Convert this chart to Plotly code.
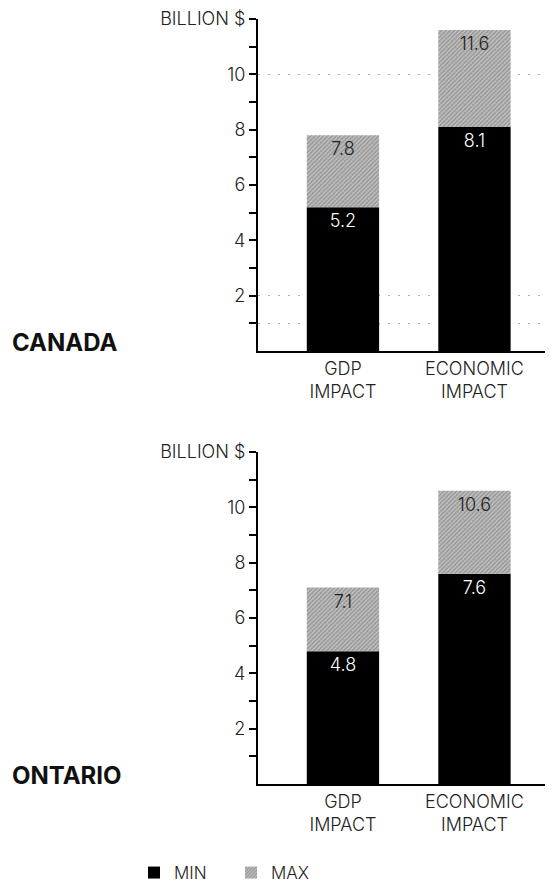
import plotly.graph_objects as go

categories = ["GDP<br>IMPACT", "ECONOMIC<br>IMPACT"]
canada_min = [5.2, 8.1]
canada_max = [7.8, 11.6]
ontario_min = [4.8, 7.6]
ontario_max = [7.1, 10.6]
regions = ["CANADA", "ONTARIO"]
y_tick_vals = [1, 2, 3, 4, 5, 6, 7, 8, 9, 10, 11, 12]
y_tick_text = ["", "2", "", "4", "", "6", "", "8", "", "10", "", "BILLION $"]
canada_grid = [1, 2, 10]

FONT = "Inter"
W, H = 553, 890
OFF = 8  # page body margin offset (screen px -> figure px)


def fx(px):
    return (px - OFF) / W


def fy(py):
    return 1 - (py - OFF) / H


fig = go.Figure()

pattern = dict(shape="/", bgcolor="#c0c0c0", fgcolor="#666666", size=3, solidity=0.45)


def add_pair(mins, maxs, xa, ya, show):
    fig.add_trace(go.Bar(
        x=categories, y=mins, name="MIN", xaxis=xa, yaxis=ya,
        marker=dict(color="#000000", line=dict(width=0)),
        text=[f"{v:.1f}" for v in mins], textposition="inside",
        insidetextanchor="end", textangle=0,
        textfont=dict(color="white", size=18, family=FONT, weight=300),
        width=0.55, showlegend=show, legendgroup="min", hoverinfo="skip"))
    fig.add_trace(go.Bar(
        x=categories, y=[b - a for a, b in zip(mins, maxs)], base=mins,
        name="MAX", xaxis=xa, yaxis=ya,
        marker=dict(color="#c0c0c0", pattern=pattern, line=dict(width=0)),
        text=[f"{v:.1f}" for v in maxs], textposition="inside",
        insidetextanchor="end", textangle=0,
        textfont=dict(color="#222222", size=18, family=FONT, weight=300),
        width=0.55, showlegend=show, legendgroup="max", hoverinfo="skip"))


add_pair(canada_min, canada_max, "x", "y", True)
add_pair(ontario_min, ontario_max, "x2", "y2", False)

xdom = [fx(258), 1.0]
top_dom = [fy(351), fy(19)]
bot_dom = [fy(784), fy(452)]

yaxis_common = dict(
    range=[0, 12], tickmode="array", tickvals=y_tick_vals, ticktext=y_tick_text,
    ticks="outside", ticklen=7, tickwidth=1.5, tickcolor="#000000",
    showline=True, linecolor="#000000", linewidth=2, showgrid=False,
    zeroline=False, tickfont=dict(family=FONT, size=18, color="#222222", weight=300),
    fixedrange=True,
)
xaxis_common = dict(
    range=[-0.646, 1.658], showline=True, linecolor="#000000", linewidth=2,
    ticks="", showgrid=False, zeroline=False,
    tickfont=dict(family=FONT, size=18, color="#222222", weight=300), fixedrange=True,
)

fig.update_layout(
    width=W, height=H,
    margin=dict(l=0, r=0, t=0, b=0, autoexpand=False),
    paper_bgcolor="white", plot_bgcolor="white",
    barmode="overlay",
    font=dict(family=FONT, color="#222222"),
    xaxis=dict(domain=xdom, anchor="y", **xaxis_common),
    yaxis=dict(domain=top_dom, anchor="x", **yaxis_common),
    xaxis2=dict(domain=xdom, anchor="y2", **xaxis_common),
    yaxis2=dict(domain=bot_dom, anchor="x2", **yaxis_common),
    yaxis3=dict(overlaying="y", range=[0, 12], tickmode="array", tickvals=canada_grid,
                showticklabels=False, ticks="", showline=False, showgrid=True,
                gridcolor="#b0b0b0", griddash="2px,8px", gridwidth=1, zeroline=False,
                anchor="x", fixedrange=True),
    legend=dict(orientation="h", x=fx(134), y=fy(873), xanchor="left", yanchor="middle",
                font=dict(family=FONT, size=17, color="#222222", weight=300),
                entrywidth=52, entrywidthmode="pixels",
                traceorder="normal", bgcolor="rgba(0,0,0,0)"),
    showlegend=True,
)

# helper trace to activate the overlay axis carrying the dotted reference gridlines
fig.add_trace(go.Scatter(x=[categories[0]], y=[None], xaxis="x", yaxis="y3",
                         showlegend=False, hoverinfo="skip", mode="markers"))

for name, ypix in zip(regions, [342, 775]):
    fig.add_annotation(text=f"<b>{name}</b>", xref="paper", yref="paper",
                       x=fx(10), y=fy(ypix), xanchor="left", yanchor="middle",
                       showarrow=False, font=dict(family=FONT, size=24, color="#111111"))

fig.write_html("out.html")
